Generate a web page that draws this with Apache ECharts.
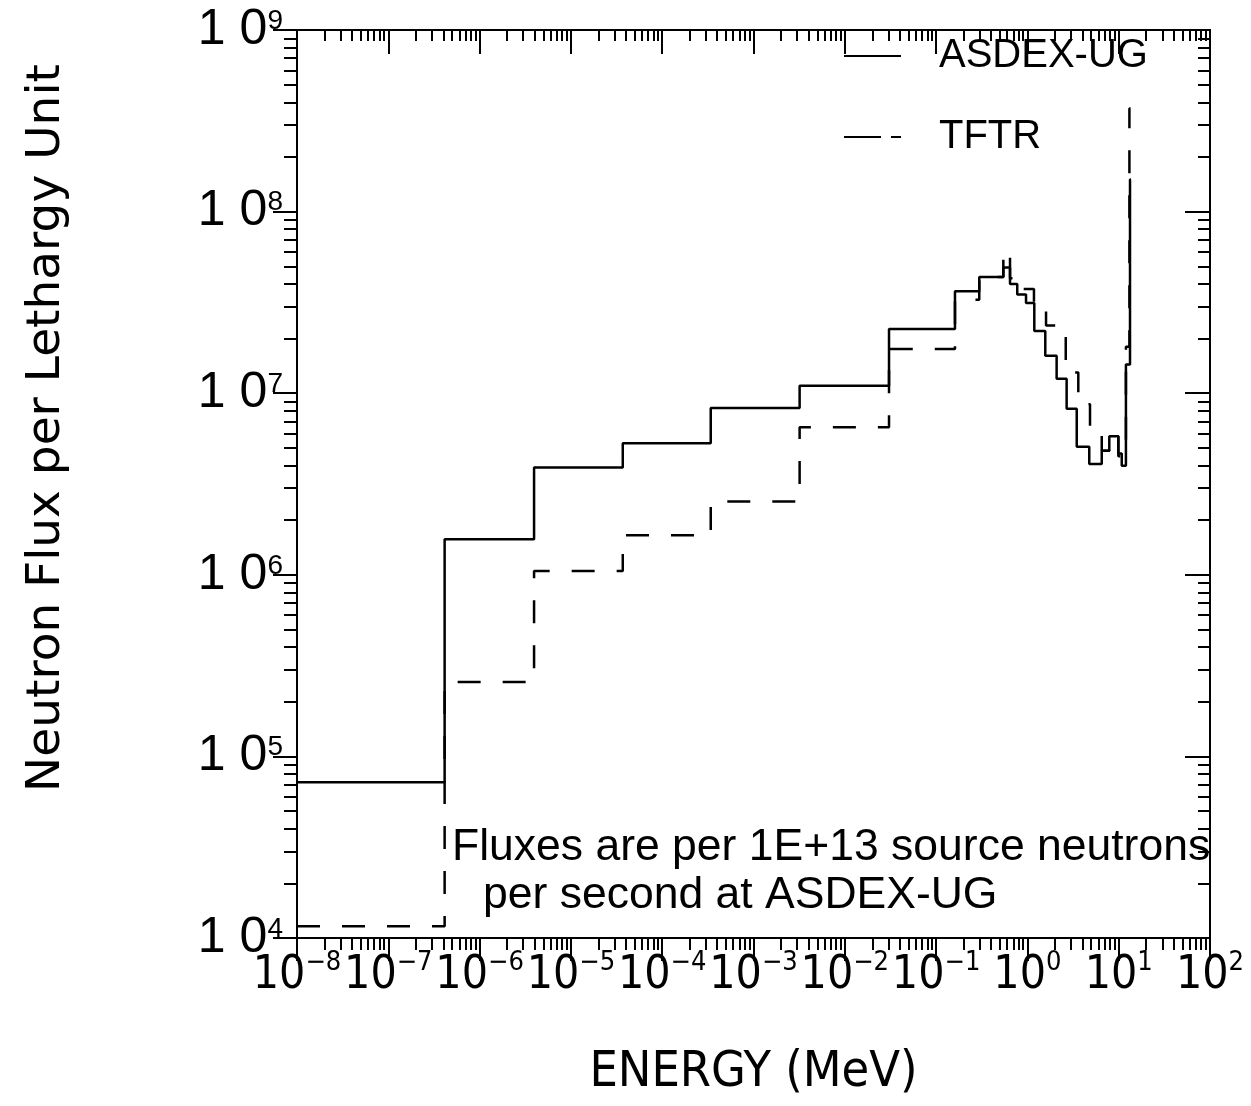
<!DOCTYPE html>
<html><head><meta charset="utf-8">
<script src="https://cdn.jsdelivr.net/npm/echarts@6/dist/echarts.min.js"></script>
<style>html,body{margin:0;padding:0;background:#fff}#c{width:1251px;height:1106px}</style>
</head><body><div id="c"></div>
<script>
// Bin edges (MeV) and flux per lethargy unit (per 1E+13 source n/s)
const asdexEdges = [1e-8, 4.14e-7, 3.95e-6, 3.7e-5, 3.4e-4, 3.2e-3, 3.05e-2, 0.161, 0.297, 0.545, 0.645, 0.774, 0.966, 1.19, 1.57, 2.09, 2.69, 3.47, 4.76, 6.52, 7.89, 9.91, 10.8, 12.0, 13.3, 13.6];
const asdexFlux  = [7.2e4, 1.57e6, 3.9e6, 5.3e6, 8.3e6, 1.1e7, 2.26e7, 3.64e7, 4.36e7, 4.92e7, 3.99e7, 3.49e7, 3.14e7, 2.2e7, 1.61e7, 1.2e7, 8.2e6, 5.07e6, 4.07e6, 4.82e6, 5.8e6, 4.66e6, 3.98e6, 1.44e7, 1.5e8];
const tftrEdges  = [1e-8, 4.14e-7, 3.95e-6, 3.7e-5, 3.4e-4, 3.2e-3, 3.05e-2, 0.161, 0.297, 0.545, 0.645, 0.895, 1.18, 1.6, 2.2, 2.63, 3.61, 4.85, 6.52, 7.89, 9.91, 12.0, 13.1, 13.5];
const tftrFlux   = [1.16e4, 2.57e5, 1.05e6, 1.65e6, 2.53e6, 6.5e6, 1.75e7, 3.27e7, 4.36e7, 6.07e7, 4.3e7, 3.75e7, 2.99e7, 2.36e7, 2.1e7, 1.3e7, 8.7e6, 5.9e6, 4.82e6, 5.8e6, 4.5e6, 1.8e7, 3.7e8];
const seriesNames = ['ASDEX-UG', 'TFTR'];
const xTickExps = [-8, -7, -6, -5, -4, -3, -2, -1, 0, 1, 2];   // tick labels 10^n
const yTickExps = [4, 5, 6, 7, 8, 9];
const xTitle = 'ENERGY (MeV)';
const yTitle = 'Neutron Flux per Lethargy Unit';
const noteLines = ['Fluxes are per 1E+13 source neutrons', 'per second at ASDEX-UG'];

// Log10 axes: data are drawn on decade (log10) value axes
function stepData(edges, vals) {
  const d = vals.map((v, i) => [Math.log10(edges[i]), Math.log10(v)]);
  d.push([Math.log10(edges[edges.length - 1]), Math.log10(vals[vals.length - 1])]);
  return d;
}
function minorLogs(e0, e1) {
  const out = [];
  for (let n = e0; n < e1; n++) for (let k = 2; k <= 9; k++) out.push(n + Math.log10(k));
  return out;
}
function supText(e) { return e < 0 ? '\u2212' + (-e) : String(e); }

const narrow = '"Liberation Sans Narrow", "DejaVu Sans Condensed", "Liberation Sans", sans-serif';
const sans = '"Liberation Sans", Arial, sans-serif';
const black = '#000';
const tickLS = { color: black, width: 2 };
const xLo = xTickExps[0], xHi = xTickExps[xTickExps.length - 1];
const yLo = yTickExps[0], yHi = yTickExps[yTickExps.length - 1];

function helperAxis(pos, lo, hi, inside, len, values, showLine) {
  return {
    type: 'value', position: pos, min: lo, max: hi, interval: 1,
    axisLine: { show: !!showLine, onZero: false, lineStyle: { color: black, width: 2 } },
    splitLine: { show: false }, axisLabel: { show: false },
    axisTick: { show: true, inside: inside, length: len, customValues: values, lineStyle: tickLS }
  };
}

const chart = echarts.init(document.getElementById('c'), null, { renderer: 'canvas' });
chart.setOption({
  animation: false,
  backgroundColor: '#fff',
  grid: { left: 297, right: 41, top: 30, bottom: 161, containLabel: false },
  legend: {
    orient: 'vertical', left: 838, top: 27, itemWidth: 57, itemHeight: 14, itemGap: 33,
    itemStyle: { opacity: 0 },
    data: [
      { name: seriesNames[0] },
      { name: seriesNames[1], lineStyle: { type: [37, 10] } }
    ],
    textStyle: { fontSize: 40, fontFamily: sans, color: black, lineHeight: 48, padding: [0, 0, 0, 33] }
  },
  xAxis: [
    { type: 'value', position: 'bottom', min: xLo, max: xHi, interval: 1,
      axisLine: { show: true, onZero: false, lineStyle: { color: black, width: 2 } },
      splitLine: { show: false },
      axisTick: { show: true, inside: false, length: 23, customValues: xTickExps, lineStyle: tickLS },
      axisLabel: {
        margin: 11, color: black, customValues: xTickExps, showMinLabel: true, showMaxLabel: true, hideOverlap: false,
        formatter: v => '{b|10}{s|' + supText(Math.round(v)) + '}',
        rich: {
          b: { fontSize: 46, fontFamily: narrow, color: black, lineHeight: 54, verticalAlign: 'middle' },
          s: { fontSize: 27, fontFamily: narrow, color: black, lineHeight: 54, verticalAlign: 'top' }
        }
      },
      name: xTitle, nameLocation: 'middle', nameGap: 107,
      nameTextStyle: { fontSize: 50, fontFamily: narrow, color: black, lineHeight: 56 }
    },
    helperAxis('bottom', xLo, xHi, false, 12, minorLogs(xLo, xHi)),
    helperAxis('top', xLo, xHi, true, 24, xTickExps, true),
    helperAxis('top', xLo, xHi, true, 11, minorLogs(xLo, xHi))
  ],
  yAxis: [
    { type: 'value', position: 'left', min: yLo, max: yHi, interval: 1,
      axisLine: { show: true, onZero: false, lineStyle: { color: black, width: 2 } },
      splitLine: { show: false },
      axisTick: { show: true, inside: false, length: 24, customValues: yTickExps, lineStyle: tickLS },
      axisLabel: {
        margin: 14, color: black, customValues: yTickExps, showMinLabel: true, showMaxLabel: true,
        formatter: v => '{b|1\u2009\u200A0}{s|' + supText(Math.round(v)) + '}',
        rich: {
          b: { fontSize: 50, fontFamily: sans, color: black, lineHeight: 54, verticalAlign: 'middle' },
          s: { fontSize: 28, fontFamily: sans, color: black, lineHeight: 54, verticalAlign: 'top', padding: [4, 0, 0, 0] }
        }
      }
    },
    helperAxis('left', yLo, yHi, false, 13, minorLogs(yLo, yHi)),
    helperAxis('right', yLo, yHi, true, 25, yTickExps, true),
    helperAxis('right', yLo, yHi, true, 12, minorLogs(yLo, yHi))
  ],
  graphic: [
    { type: 'text', x: 47, y: 428, rotation: Math.PI / 2,
      style: { text: yTitle, font: '47px "DejaVu Sans", sans-serif', fill: black, align: 'center', verticalAlign: 'middle' } },
    { type: 'text', left: 452, top: 825,
      style: { text: noteLines[0], font: '44.5px "Liberation Sans", Arial, sans-serif', fill: black } },
    { type: 'text', left: 483, top: 873,
      style: { text: noteLines[1], font: '44.5px "Liberation Sans", Arial, sans-serif', fill: black } }
  ],
  series: [
    { name: seriesNames[0], type: 'line', step: 'end', xAxisIndex: 0, yAxisIndex: 0,
      symbol: 'none', data: stepData(asdexEdges, asdexFlux),
      lineStyle: { color: black, width: 2.5, type: 'solid' }, itemStyle: { color: black } },
    { name: seriesNames[1], type: 'line', step: 'end', xAxisIndex: 0, yAxisIndex: 0,
      symbol: 'none', data: stepData(tftrEdges, tftrFlux),
      lineStyle: { color: black, width: 2.5, type: [23, 22] }, itemStyle: { color: black } }
  ]
});
</script>
</body></html>
